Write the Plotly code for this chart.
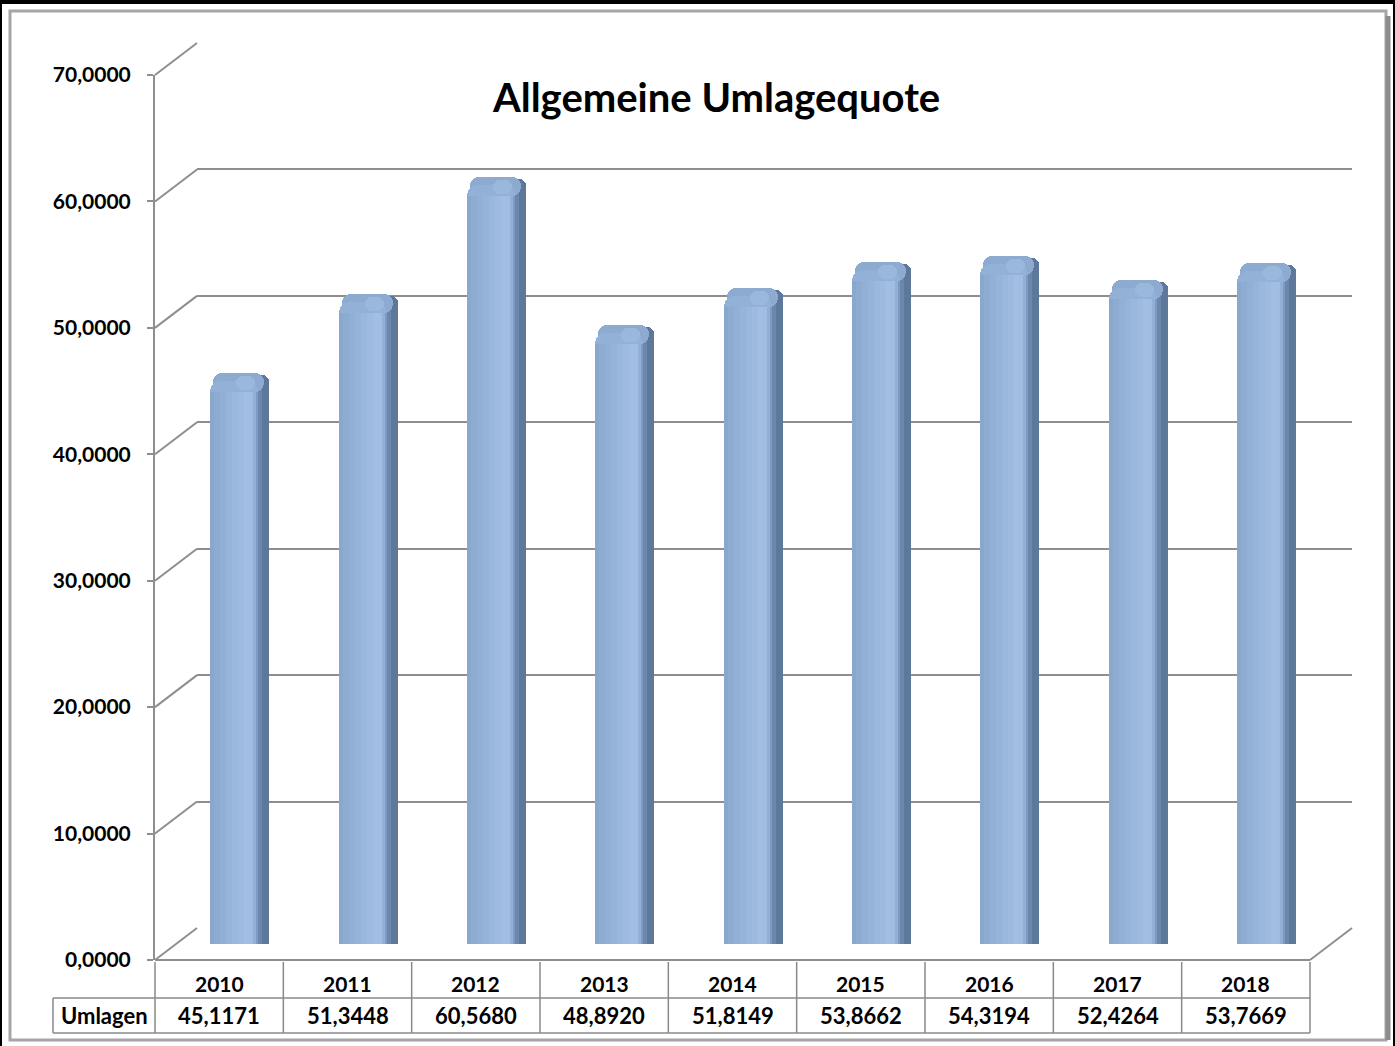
import plotly.graph_objects as go

# ---------------- data ----------------
years = ["2010", "2011", "2012", "2013", "2014", "2015", "2016", "2017", "2018"]
umlagen = [45.1171, 51.3448, 60.5680, 48.8920, 51.8149, 53.8662, 54.3194, 52.4264, 53.7669]
tick_vals = [0, 10, 20, 30, 40, 50, 60, 70]
tick_text = ["0,0000", "10,0000", "20,0000", "30,0000", "40,0000", "50,0000", "60,0000", "70,0000"]
title_text = "Allgemeine Umlagequote"
row_label = "Umlagen"

W, H = 1395, 1046
FONT = "Lato"
GRID = "#8E8E8E"


def px(x):
    return x / W


def py(y):
    return 1 - y / H


# geometry of the pseudo-3D box (front / mid-depth / back planes)
front = dict(x0=155, x1=1310, y0=960, y1=75)
dx, dy = 42, -32
mid = dict(x0=front["x0"] + dx / 2, x1=front["x1"] + dx / 2, y0=front["y0"] + dy / 2, y1=front["y1"] + dy / 2)
back = dict(x0=front["x0"] + dx, x1=front["x1"] + dx, y0=front["y0"] + dy, y1=front["y1"] + dy)
YMAX = 70
unit_px = (front["y0"] - front["y1"]) / YMAX  # pixels per value unit

n = len(years)

fig = go.Figure()

# subplot 1 (x/y): back wall with gridlines
fig.add_trace(go.Scatter(x=years, y=[None] * n, xaxis="x", yaxis="y", showlegend=False,
                         hoverinfo="skip", mode="markers"))

cat_px = (front["x1"] - front["x0"]) / n
foot = -6 / unit_px          # bar foot slightly below the floor line
labels = [f"{v:.4f}".replace(".", ",") for v in umlagen]


def u(p):
    """pixels -> value units"""
    return p / unit_px


def add_bar(a, b, col, top_px=0.0, base_px=None, radius=0):
    """bar strip from a..b px around the category centre; top = value + top_px,
    base = foot (or value + base_px when given)"""
    tops = [v + u(top_px) for v in umlagen]
    if base_px is None:
        bases = [foot] * n
    else:
        bases = [v + u(base_px) for v in umlagen]
    fig.add_trace(go.Bar(
        x=years, y=[t - bs for t, bs in zip(tops, bases)], base=bases,
        xaxis="x2", yaxis="y2", cliponaxis=False,
        offset=a / cat_px, width=(b - a) / cat_px,
        marker=dict(color=col, line=dict(width=0), cornerradius=radius),
        showlegend=False, customdata=labels,
        hovertemplate="%{x}: %{customdata}<extra></extra>",
    ))


# side face (dark)
add_bar(14, 29, "#5E789C", top_px=-1, radius=9)
add_bar(14, 22, "#6C87AC", top_px=-6, radius=6)
# top cap
add_bar(-27, 24, "#8DAAD1", top_px=1, base_px=-18, radius=11)
# front face with rounded top
add_bar(-30, 18, "#93B1D7", top_px=-7, radius=11)
# gradient strips on the front face (stop below the rounded top)
strips = [(-30, -26, "#8AA7CE"), (-26, -20, "#8EACD2"), (-20, -14, "#92B0D6"), (-14, -8, "#96B4D9"),
          (-8, -2, "#9AB7DC"), (-2, 4, "#9EBBDF"), (4, 9, "#A2BFE3"), (9, 13, "#A1BDE1"),
          (13, 16, "#93AFD5"), (16, 18, "#7E9AC0")]
for a, b, col in strips:
    add_bar(a, b, col, top_px=-18)
# soft highlight on the cap
add_bar(-4, 15, "#9AB7DC", top_px=-2, base_px=-16, radius=7)

# subplot 3 (x3/y3): front axis with tick labels
fig.add_trace(go.Scatter(x=years, y=[None] * n, xaxis="x3", yaxis="y3", showlegend=False,
                         hoverinfo="skip", mode="markers"))

common_x = dict(type="category", range=[-0.5, n - 0.5], showgrid=False, zeroline=False,
                showticklabels=False, showline=False, ticks="", fixedrange=True, automargin=False)

fig.update_layout(
    width=W, height=H, autosize=False,
    margin=dict(l=0, r=0, t=0, b=0, pad=0, autoexpand=False),
    paper_bgcolor="white", plot_bgcolor="rgba(0,0,0,0)",
    barmode="overlay", bargap=0,
    font=dict(family=FONT, color="black"),
    # back wall
    xaxis=dict(common_x, domain=[px(back["x0"]), px(back["x1"])], anchor="y"),
    yaxis=dict(domain=[py(back["y0"]), py(back["y1"])], range=[0, YMAX], tickvals=tick_vals,
               showgrid=True, gridcolor=GRID, gridwidth=2, showticklabels=False, zeroline=False,
               showline=False, anchor="x", fixedrange=True, automargin=False),
    # bars at mid depth
    xaxis2=dict(common_x, domain=[px(mid["x0"]), px(mid["x1"])], anchor="y2"),
    yaxis2=dict(domain=[py(mid["y0"]), py(mid["y1"])], range=[0, YMAX], visible=False,
                anchor="x2", fixedrange=True, automargin=False),
    # front axis
    xaxis3=dict(common_x, domain=[px(front["x0"]), px(front["x1"])], anchor="y3"),
    yaxis3=dict(domain=[py(front["y0"]), py(front["y1"])], range=[0, YMAX],
                tickvals=tick_vals, ticktext=tick_text, showgrid=False, zeroline=False,
                showline=True, linecolor=GRID, linewidth=2, ticks="outside", ticklen=6,
                tickcolor=GRID, tickwidth=2, ticklabelstandoff=12, fixedrange=True,
                automargin=False,
                tickfont=dict(family=FONT, size=21, color="black", weight="bold"), anchor="x3"),
)

shapes = []
# diagonal connectors front -> back at each tick
for v in tick_vals:
    yf = front["y0"] - unit_px * v
    shapes.append(dict(type="line", xref="paper", yref="paper", layer="below",
                       x0=px(front["x0"]), y0=py(yf), x1=px(back["x0"]), y1=py(yf + dy),
                       line=dict(color=GRID, width=2)))
# floor front edge and right floor edge
shapes.append(dict(type="line", xref="paper", yref="paper", layer="below",
                   x0=px(front["x0"]), y0=py(front["y0"]), x1=px(front["x1"]), y1=py(front["y0"]),
                   line=dict(color=GRID, width=2)))
shapes.append(dict(type="line", xref="paper", yref="paper", layer="below",
                   x0=px(front["x1"]), y0=py(front["y0"]), x1=px(back["x1"]), y1=py(back["y0"]),
                   line=dict(color=GRID, width=2)))

# data table
t_top, t_mid, t_bot = front["y0"], 998, 1033
t_left = 53
cell_line = dict(color="#8A8A8A", width=1.5)
for i in range(n + 1):
    xb = i / n
    shapes.append(dict(type="line", xref="x3 domain", yref="paper", x0=xb, x1=xb,
                       y0=py(t_top + 2), y1=py(t_bot), line=cell_line))
shapes.append(dict(type="line", xref="paper", yref="paper", x0=px(t_left), x1=px(front["x1"]),
                   y0=py(t_mid), y1=py(t_mid), line=cell_line))
shapes.append(dict(type="line", xref="paper", yref="paper", x0=px(t_left), x1=px(front["x1"]),
                   y0=py(t_bot), y1=py(t_bot), line=cell_line))
shapes.append(dict(type="line", xref="paper", yref="paper", x0=px(t_left), x1=px(t_left),
                   y0=py(t_mid), y1=py(t_bot), line=cell_line))

# chart frame
shapes.append(dict(type="rect", xref="paper", yref="paper", x0=px(10), x1=px(1386), y0=py(1040), y1=py(11),
                   line=dict(color="#A6A6A6", width=3), layer="below"))
shapes.append(dict(type="line", xref="paper", yref="paper", x0=px(1388), x1=px(1388), y0=py(1040), y1=py(16),
                   line=dict(color="#8C8C8C", width=5), layer="below"))
# outer black border
shapes.append(dict(type="line", xref="paper", yref="paper", x0=0, x1=1, y0=py(2), y1=py(2),
                   line=dict(color="black", width=4)))
shapes.append(dict(type="line", xref="paper", yref="paper", x0=px(1), x1=px(1), y0=0, y1=1,
                   line=dict(color="black", width=2)))
shapes.append(dict(type="line", xref="paper", yref="paper", x0=px(1394), x1=px(1394), y0=0, y1=1,
                   line=dict(color="black", width=2)))

annotations = []
annotations.append(dict(text=f"<b>{title_text}</b>", xref="paper", yref="paper", x=px(716), y=py(97),
                        showarrow=False, font=dict(family=FONT, size=40, color="black"),
                        xanchor="center", yanchor="middle"))
for i, (yr, lab) in enumerate(zip(years, labels)):
    xc = (i + 0.5) / n
    annotations.append(dict(text=f"<b>{yr}</b>", xref="x3 domain", yref="paper", x=xc, y=py(983),
                            showarrow=False, font=dict(family=FONT, size=21), xanchor="center",
                            yanchor="middle"))
    annotations.append(dict(text=f"<b>{lab}</b>", xref="x3 domain",
                            yref="paper", x=xc, y=py(1015), showarrow=False,
                            font=dict(family=FONT, size=22), xanchor="center", yanchor="middle"))
annotations.append(dict(text=f"<b>{row_label}</b>", xref="paper", yref="paper", x=px(104), y=py(1015),
                        showarrow=False, font=dict(family=FONT, size=22), xanchor="center",
                        yanchor="middle"))

fig.update_layout(shapes=shapes, annotations=annotations)

fig.write_html(
    "out.html",
    config={"displayModeBar": False},
    post_script=("var d=document.getElementById('{plot_id}');d.style.position='fixed';"
                 "d.style.top='0';d.style.left='0';document.body.style.margin='0';"
                 "document.body.style.overflow='hidden';"),
)
